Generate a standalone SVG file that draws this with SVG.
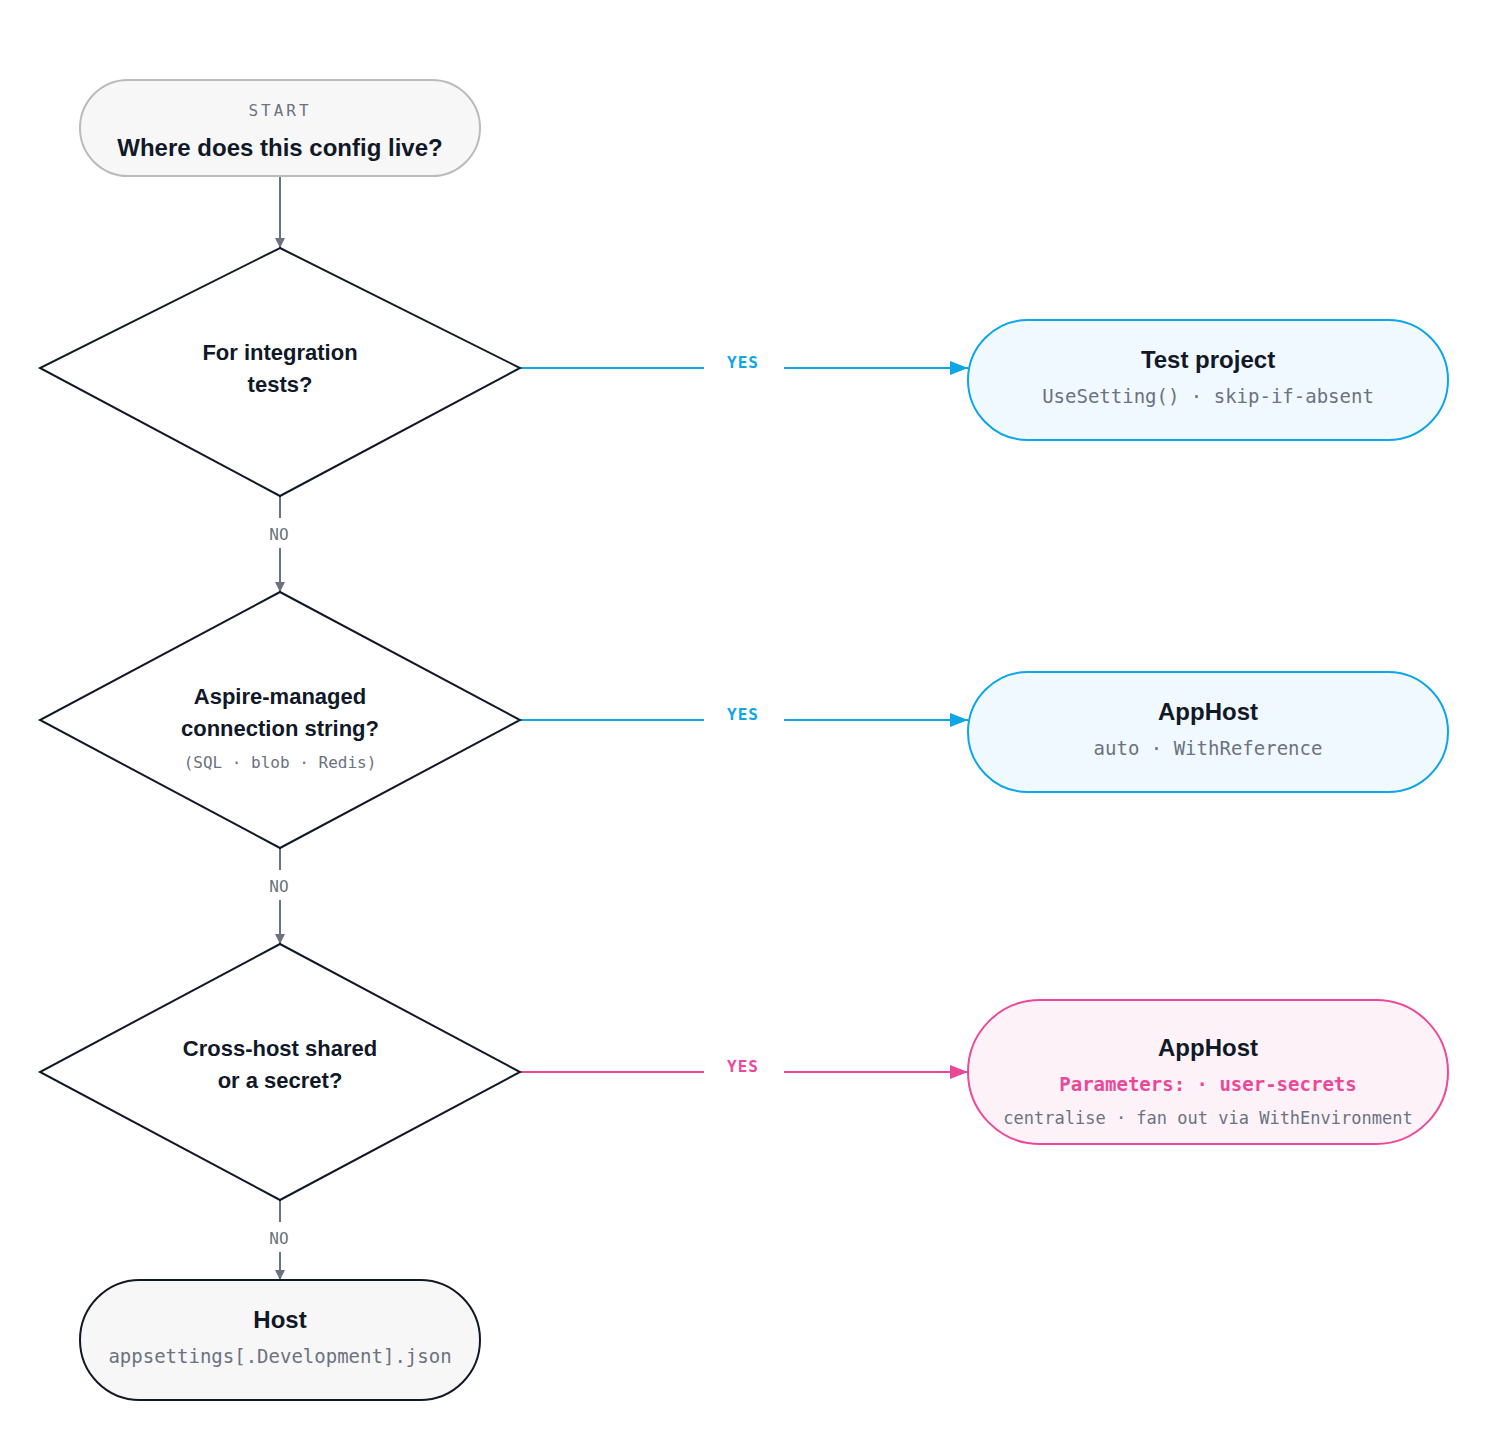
<svg xmlns="http://www.w3.org/2000/svg" width="1488" height="1440" viewBox="0 0 1488 1440">
<style>
.t{font-family:"Liberation Sans",Arial,sans-serif;font-weight:bold;fill:#111827;text-anchor:middle}
.m{font-family:"DejaVu Sans Mono","Liberation Mono",monospace;fill:#6b7280;text-anchor:middle}
.d{fill:#fff;stroke:#111827;stroke-width:2}
.g{stroke:#6b7280;stroke-width:2;fill:none}
.b{stroke:#0ea5e9;stroke-width:2;fill:none}
.p{stroke:#ec4899;stroke-width:2;fill:none}
</style>
<defs>
<marker id="ag" viewBox="0 0 10 10" refX="10" refY="5" markerWidth="10" markerHeight="10" markerUnits="userSpaceOnUse" orient="auto"><path d="M0,0L10,5L0,10z" fill="#6b7280"/></marker>
<marker id="ab" viewBox="0 0 10 10" refX="10" refY="5" markerWidth="18" markerHeight="14" markerUnits="userSpaceOnUse" orient="auto" preserveAspectRatio="none"><path d="M0,0L10,5L0,10z" fill="#0ea5e9"/></marker>
<marker id="ap" viewBox="0 0 10 10" refX="10" refY="5" markerWidth="18" markerHeight="14" markerUnits="userSpaceOnUse" orient="auto" preserveAspectRatio="none"><path d="M0,0L10,5L0,10z" fill="#ec4899"/></marker>
</defs>
<rect width="1488" height="1440" fill="#fff"/>
<g id="connectors">
<path class="g" d="M280,176V248" marker-end="url(#ag)"/>
<path class="g" d="M280,496V518M280,548V592" marker-end="url(#ag)"/>
<path class="g" d="M280,848V870M280,900V944" marker-end="url(#ag)"/>
<path class="g" d="M280,1200V1222M280,1252V1280" marker-end="url(#ag)"/>
<text class="m" x="279" y="540" font-size="16">NO</text>
<text class="m" x="279" y="892" font-size="16">NO</text>
<text class="m" x="279" y="1244" font-size="16">NO</text>
<path class="b" d="M520,368H704M784,368H968" marker-end="url(#ab)"/>
<path class="b" d="M520,720H704M784,720H968" marker-end="url(#ab)"/>
<path class="p" d="M520,1072H704M784,1072H968" marker-end="url(#ap)"/>
<text class="m" x="743" y="368" font-size="16" font-weight="bold" fill="#0ea5e9" style="fill:#0ea5e9" letter-spacing="1">YES</text>
<text class="m" x="743" y="720" font-size="16" font-weight="bold" style="fill:#0ea5e9" letter-spacing="1">YES</text>
<text class="m" x="743" y="1072" font-size="16" font-weight="bold" style="fill:#ec4899" letter-spacing="1">YES</text>
</g>
<g id="start">
<rect x="80" y="80" width="400" height="96" rx="48" fill="#f7f7f7" stroke="#bbbbbb" stroke-width="2"/>
<text class="m" x="280" y="116" font-size="16" letter-spacing="3">START</text>
<text class="t" x="280" y="156" font-size="24">Where does this config live?</text>
</g>
<g id="q1">
<path class="d" d="M280,248L520,368L280,496L40,368Z"/>
<text class="t" x="280" y="360" font-size="22">For integration</text>
<text class="t" x="280" y="392" font-size="22">tests?</text>
</g>
<g id="q2">
<path class="d" d="M280,592L520,720L280,848L40,720Z"/>
<text class="t" x="280" y="704" font-size="22">Aspire-managed</text>
<text class="t" x="280" y="736" font-size="22">connection string?</text>
<text class="m" x="280" y="768" font-size="16">(SQL · blob · Redis)</text>
</g>
<g id="q3">
<path class="d" d="M280,944L520,1072L280,1200L40,1072Z"/>
<text class="t" x="280" y="1056" font-size="22">Cross-host shared</text>
<text class="t" x="280" y="1088" font-size="22">or a secret?</text>
</g>
<g id="test">
<rect x="968" y="320" width="480" height="120" rx="60" fill="#f0f9ff" stroke="#0ea5e9" stroke-width="2"/>
<text class="t" x="1208" y="368" font-size="24">Test project</text>
<text class="m" x="1208" y="403" font-size="19">UseSetting() · skip-if-absent</text>
</g>
<g id="apphost1">
<rect x="968" y="672" width="480" height="120" rx="60" fill="#f0f9ff" stroke="#0ea5e9" stroke-width="2"/>
<text class="t" x="1208" y="720" font-size="24">AppHost</text>
<text class="m" x="1208" y="755" font-size="19">auto · WithReference</text>
</g>
<g id="apphost2">
<rect x="968" y="1000" width="480" height="144" rx="72" fill="#fdf2f8" stroke="#ec4899" stroke-width="2"/>
<text class="t" x="1208" y="1056" font-size="24">AppHost</text>
<text class="m" x="1208" y="1091" font-size="19" font-weight="bold" style="fill:#ec4899">Parameters: · user-secrets</text>
<text class="m" x="1208" y="1124" font-size="17">centralise · fan out via WithEnvironment</text>
</g>
<g id="host">
<rect x="80" y="1280" width="400" height="120" rx="60" fill="#f7f7f7" stroke="#111827" stroke-width="2"/>
<text class="t" x="280" y="1328" font-size="24">Host</text>
<text class="m" x="280" y="1363" font-size="19">appsettings[.Development].json</text>
</g>
</svg>
